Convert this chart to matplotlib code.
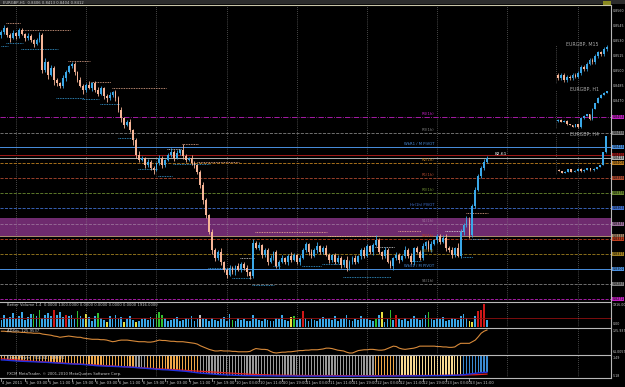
import numpy as np
import matplotlib.pyplot as plt
from matplotlib.transforms import blended_transform_factory
from matplotlib.lines import Line2D

W, H = 625, 387
PIP = 0.0001
plt.rcParams['font.family'] = ['Liberation Sans Narrow', 'DejaVu Sans']

# EURGBP H1 candles (close prices, first open, wick lengths in pips)
first_open = 0.8536
closes = [
    0.8539, 0.8543, 0.8536, 0.8533, 0.8538, 0.8535, 0.8541, 0.8537, 0.8533, 0.8535,
    0.8531, 0.8527, 0.8531, 0.8536, 0.8501, 0.8509, 0.8496, 0.8503, 0.8491, 0.8488,
    0.8485, 0.8493, 0.8499, 0.8505, 0.8507, 0.8499, 0.8491, 0.8485, 0.8481, 0.8486,
    0.8483, 0.8488, 0.8481, 0.8477, 0.8483, 0.8475, 0.8473, 0.8476, 0.8479, 0.8473,
    0.8461, 0.8453, 0.8446, 0.8449, 0.8441, 0.8431, 0.8416, 0.8411, 0.8413, 0.8406,
    0.8409, 0.8403, 0.8401, 0.8408, 0.8413, 0.8406, 0.8411, 0.8416, 0.8419, 0.8413,
    0.8418, 0.8421, 0.8415, 0.8411, 0.8413, 0.8408, 0.8406, 0.8399, 0.8386, 0.8371,
    0.8356, 0.8339, 0.8321, 0.8313, 0.8319, 0.8309, 0.8301, 0.8296, 0.8303, 0.8299,
    0.8305, 0.8301, 0.8307, 0.8303, 0.8299, 0.8295, 0.8328, 0.8323, 0.8326, 0.8316,
    0.8321, 0.8309, 0.8313, 0.8319, 0.8305, 0.8309, 0.8313, 0.8309, 0.8315, 0.8311,
    0.8316, 0.8309, 0.8313, 0.8321, 0.8327, 0.8319, 0.8315, 0.8321, 0.8325, 0.8319,
    0.8323, 0.8316, 0.8311, 0.8316, 0.8309, 0.8313, 0.8306, 0.8311, 0.8303, 0.8309,
    0.8313, 0.8309, 0.8315, 0.8321, 0.8315, 0.8325, 0.8319, 0.8326, 0.8331, 0.8319,
    0.8315, 0.8321, 0.8309, 0.8305, 0.8313, 0.8316, 0.8311, 0.8315, 0.8321, 0.8315,
    0.8309, 0.8323, 0.8319, 0.8313, 0.8325, 0.8329, 0.8321, 0.8327, 0.8331, 0.8335,
    0.8329, 0.8333, 0.8323, 0.8321, 0.8316, 0.8323, 0.8315, 0.8339, 0.8346, 0.8351,
    0.8336, 0.8365, 0.8381, 0.8395, 0.8403, 0.8409, 0.8413,
]
wick_up = [
    2, 3, 1, 2, 3, 1, 2, 2, 1, 3,  2, 1, 2, 3, 2, 4, 1, 3, 2, 2,
    1, 3, 2, 1, 2, 2, 1, 3, 2, 2,  4, 1, 2, 3, 2, 1, 2, 3, 1, 2,
    2, 3, 1, 2, 3, 1, 2, 4, 2, 1,  3, 2, 2, 1, 3, 2, 1, 2, 4, 2,
    3, 1, 6, 2, 1, 3, 2, 1, 2, 3,  2, 1, 3, 2, 2, 4, 1, 2, 3, 2,
    1, 3, 2, 2, 3, 1, 4, 2, 3, 1,  2, 2, 3, 1, 2, 2, 3, 1, 2, 4,
    2, 1, 3, 2, 2, 1, 3, 2, 4, 1,  2, 3, 2, 1, 2, 3, 2, 1, 4, 2,
    2, 3, 1, 2, 3, 2, 1, 2, 5, 2,  1, 3, 2, 2, 1, 3, 2, 1, 4, 2,
    3, 1, 2, 2, 3, 1, 2, 3, 1, 2,  2, 3, 4, 2, 3, 1, 5, 3, 2, 4,
    3, 2, 3, 2, 2, 3, 2,
]
wick_dn = [
    3, 2, 2, 4, 1, 3, 2, 1, 3, 2,  2, 3, 1, 2, 3, 2, 4, 1, 5, 3,
    2, 2, 3, 1, 2, 3, 2, 1, 4, 2,  1, 3, 2, 2, 1, 3, 4, 2, 2, 3,
    2, 4, 3, 1, 2, 5, 3, 2, 1, 3,  2, 2, 4, 1, 2, 3, 2, 1, 2, 3,
    1, 2, 3, 2, 1, 2, 3, 2, 3, 4,  3, 2, 4, 3, 2, 3, 2, 3, 1, 2,
    3, 1, 2, 2, 4, 3, 2, 1, 2, 3,  2, 3, 1, 2, 2, 3, 1, 2, 3, 2,
    1, 2, 3, 1, 2, 3, 2, 1, 3, 2,  2, 1, 3, 2, 2, 1, 3, 2, 3, 2,
    2, 2, 1, 3, 2, 1, 2, 3, 1, 2,  3, 2, 1, 2, 4, 2, 3, 1, 2, 2,
    2, 3, 1, 2, 2, 3, 1, 2, 1, 3,  2, 1, 3, 2, 3, 2, 1, 2, 3, 2,
    3, 2, 2, 1, 2, 2, 1,
]

time_labels = ['4 Jan 2011', '5 Jan 03:00', '5 Jan 11:00', '5 Jan 19:00', '6 Jan 03:00',
               '6 Jan 11:00', '6 Jan 19:00', '7 Jan 03:00', '7 Jan 11:00', '7 Jan 19:00',
               '10 Jan 03:00', '10 Jan 11:00', '10 Jan 19:00', '11 Jan 03:00', '11 Jan 11:00',
               '11 Jan 19:00', '12 Jan 03:00', '12 Jan 11:00', '12 Jan 19:00', '13 Jan 03:00',
               '13 Jan 11:00']
label_every = 8
day_starts = [5, 29, 53, 77, 101, 125, 149, 173, 197]

# pivot / level lines: price, colour, style, text
level_prices = [0.8454, 0.8438, 0.8424, 0.8416, 0.8413, 0.8408, 0.8393, 0.8378,
                0.8363, 0.8347, 0.8335, 0.8332, 0.8317, 0.8302, 0.8287, 0.8272]
level_colors = ['#c020c0', '#808080', '#4a90e0', '#a01818', '#b0b0b0', '#c08020',
                '#b04a30', '#6a8a30', '#4070d0', '#9a709a', '#b09070', '#c04020',
                '#a08020', '#4a90e0', '#808080', '#c020c0']
level_styles = ['-.', '--', '-', '-', '-', '--', '--', '--',
                '--', '--', '-', '--', '--', '-', '--', '--']
level_names = ['R4(1h)', 'R3(1h)', 'WkR1 / M PIVOT', '', '', 'R2(1h)', 'R1(1h)', 'R0(1h)',
               'Hr(1h) PIVOT', 'S1(1h)', '', 'S2(1h)', 'S3(1h)', 'WkS1 / M PIVOT', 'S4(1h)', '']
band_lo, band_hi = 0.8335, 0.8353

# session high / low dotted markers: first bar, last bar, price
hi_marks = [(2, 6, 0.8548), (7, 23, 0.8541), (23, 30, 0.8510), (31, 37, 0.8489),
            (38, 56, 0.8483), (62, 67, 0.8427), (67, 81, 0.8409), (87, 111, 0.8339),
            (112, 128, 0.8335), (136, 143, 0.8340), (159, 166, 0.8358)]
box_marks = [(57, 61, 0.8422), (82, 86, 0.8313), (128, 134, 0.8324), (152, 158, 0.8340)]
lo_marks = [(0, 2, 0.8525), (2, 7, 0.8528), (7, 19, 0.8522), (19, 28, 0.8473),
            (28, 33, 0.8472), (34, 40, 0.8467), (40, 45, 0.8433), (47, 53, 0.8402),
            (54, 58, 0.8395), (59, 71, 0.8407), (71, 81, 0.8303), (79, 85, 0.8293),
            (86, 93, 0.8286), (93, 95, 0.8305), (103, 109, 0.8305), (110, 116, 0.8307),
            (117, 133, 0.8294), (140, 143, 0.8310), (158, 161, 0.8314), (161, 166, 0.8332)]

axis_ticks = [0.8560, 0.8545, 0.8530, 0.8515, 0.8500, 0.8485, 0.8470, 0.8455, 0.8440,
              0.8425, 0.8410, 0.8395, 0.8380, 0.8365, 0.8350, 0.8335, 0.8320, 0.8305,
              0.8290, 0.8275]

# M15 / H4 mini charts
m15_open = 0.8398
m15_closes = [0.8396, 0.8398, 0.8395, 0.8397, 0.8396, 0.8398, 0.8397, 0.8399, 0.8402,
              0.8401, 0.8404, 0.8406, 0.8405, 0.8408, 0.8410, 0.8409, 0.8412, 0.8413]
h4_open = 0.8315
h4_closes = [0.8312, 0.8306, 0.8310, 0.8316, 0.8309, 0.8313, 0.8318, 0.8311, 0.8315,
             0.8320, 0.8314, 0.8318, 0.8323, 0.8329, 0.8366, 0.8413]

# Better Volume
volume = [
    560, 1000, 760, 840, 1150, 690, 920, 1230, 610, 850,
    1080, 1070, 920, 1380, 770, 1000, 1150, 930, 1380, 1000,
    1230, 860, 1000, 920, 1000, 690, 1300, 920, 770, 1080,
    850, 530, 900, 1150, 770, 610, 380, 920, 690, 1000,
    770, 850, 380, 690, 920, 610, 380, 530, 690, 770,
    610, 850, 690, 1080, 1230, 1000, 770, 460, 610, 690,
    850, 530, 610, 770, 690, 920, 530, 690, 1000, 770,
    690, 530, 770, 610, 460, 690, 850, 530, 1080, 610,
    530, 770, 610, 690, 460, 530, 1000, 770, 610, 530,
    690, 610, 460, 530, 770, 690, 1000, 610, 530, 850,
    920, 610, 690, 1300, 770, 530, 690, 610, 460, 690,
    850, 690, 770, 610, 920, 530, 690, 770, 1000, 610,
    530, 690, 610, 920, 770, 690, 610, 530, 690, 1000,
    1230, 380, 690, 1380, 610, 1000, 690, 610, 770, 530,
    690, 920, 770, 610, 690, 1000, 1230, 690, 610, 770,
    690, 850, 530, 610, 770, 690, 610, 920, 1080, 770,
    460, 380, 920, 1300, 1380, 1916, 610,
]
vol_green = [11, 13, 26, 33, 53, 54, 55, 79, 100, 128, 133, 146]
vol_red = [18, 22, 103, 135, 163, 164, 165]
vol_yellow = [29, 36, 42, 46, 99, 130, 160, 161]
vol_gray = [68]
vol_avg = 700

# oscillator line
osc = [
    118, 118, 117, 117, 116, 116, 116, 115, 115, 114, 114, 113, 113, 113,
    111, 110, 109, 108, 106, 105, 103, 104, 105, 106, 105, 104, 103, 103,
    101, 100, 99, 98, 98, 98, 97, 97, 96, 94, 92, 93, 95, 96,
    96, 96, 95, 94, 93, 92, 92, 92, 91, 91, 92, 94, 96, 95,
    95, 94, 93, 93, 92, 92, 92, 91, 90, 89, 88, 86, 82, 79,
    76, 73, 71, 69, 69, 70, 69, 69, 69, 68, 68, 67, 67, 67,
    67, 68, 72, 75, 74, 73, 73, 72, 68, 65, 64, 65, 66, 66,
    67, 67, 68, 69, 70, 70, 71, 71, 72, 72, 72, 73, 74, 76,
    76, 75, 73, 71, 70, 69, 66, 64, 64, 67, 70, 71, 72, 72,
    73, 73, 72, 71, 71, 72, 75, 78, 81, 80, 76, 74, 73, 74,
    75, 76, 78, 81, 81, 81, 81, 81, 81, 80, 80, 79, 79, 78,
    78, 79, 84, 88, 88, 88, 88, 92, 96, 104, 113, 118, 121,
]

# lower histogram panel
hist = [
    -234, -236, -240, -244, -248, -252, -255, -257, -259, -261, -263, -265, -268, -270,
    -272, -274, -277, -280, -283, -286, -290, -293, -296, -300, -302, -304, -306, -308,
    -312, -316, -320, -324, -330, -334, -336, -338, -340, -342, -344, -346, -348, -350,
    -352, -354, -356, -360, -364, -368, -372, -376, -380, -384, -388, -392, -396, -400,
    -402, -404, -408, -412, -416, -420, -424, -428, -434, -440, -446, -452, -458, -462,
    -466, -470, -474, -478, -482, -486, -488, -490, -492, -494, -496, -498, -500, -502,
    -502, -503, -503, -504, -504, -505, -505, -506, -506, -507, -507, -508, -508, -508,
    -509, -509, -509, -510, -510, -510, -510, -510, -510, -510, -511, -511, -511, -511,
    -511, -511, -512, -512, -512, -512, -512, -512, -512, -512, -512, -511, -511, -511,
    -511, -511, -510, -510, -510, -510, -509, -509, -509, -508, -508, -508, -507, -507,
    -506, -506, -505, -505, -504, -504, -503, -503, -502, -502, -501, -501, -500, -500,
    -498, -496, -494, -490, -486, -480, -474, -468, -462, -456, -450, -446, -444,
]
signal = [
    -215, -218, -222, -226, -230, -234, -238, -242, -246, -250, -254, -257, -260, -263,
    -266, -269, -272, -275, -278, -281, -284, -287, -290, -293, -296, -299, -302, -305,
    -308, -311, -314, -317, -320, -323, -326, -329, -332, -335, -338, -341, -344, -347,
    -350, -353, -356, -359, -362, -365, -368, -371, -374, -377, -380, -383, -386, -389,
    -392, -395, -398, -401, -404, -407, -410, -413, -416, -419, -422, -425, -428, -431,
    -434, -437, -440, -443, -446, -449, -452, -455, -458, -461, -464, -467, -470, -473,
    -476, -478, -480, -482, -484, -486, -488, -490, -491, -492, -493, -494, -495, -496,
    -497, -497, -498, -498, -499, -499, -499, -500, -500, -500, -500, -500, -500, -500,
    -500, -501, -501, -501, -501, -502, -502, -502, -502, -502, -502, -502, -502, -502,
    -502, -502, -502, -502, -501, -501, -501, -501, -501, -500, -500, -500, -500, -500,
    -500, -499, -499, -499, -498, -498, -498, -497, -497, -497, -496, -496, -496, -495,
    -495, -494, -494, -493, -492, -491, -490, -488, -486, -484, -481, -478, -475,
]
hist_runs = [(0, 46, '#f0a848'), (46, 50, '#9a9a9a'), (50, 68, '#f0a848'),
             (68, 128, '#9a9a9a'), (128, 135, '#f0a848'), (135, 137, '#9a9a9a'),
             (137, 158, '#f8d890'), (158, 167, '#3a8ad0')]

BULL, BEAR = '#3aa8e8', '#f6b496'
BG, GRID, TXT = 'black', '#8a8a8a', '#c8c8c8'
FS = 2.7
FSR = 2.3   # right-hand scale

fig = plt.figure(figsize=(W / 100, H / 100), dpi=100, facecolor=BG)


def px_axes(x0, y0, x1, y1):
    ax = fig.add_axes([x0 / W, 1 - y1 / H, (x1 - x0) / W, (y1 - y0) / H])
    ax.set_facecolor('none')
    ax.set_xticks([])
    ax.set_yticks([])
    for s in ax.spines.values():
        s.set_visible(False)
    return ax


def candles(ax, x, o, c, up, dn, width=0.62, lw=0.6):
    o, c = np.asarray(o), np.asarray(c)
    hi = np.maximum(o, c) + np.asarray(up) * PIP
    lo = np.minimum(o, c) - np.asarray(dn) * PIP
    cols = np.where(c >= o, BULL, BEAR)
    ax.vlines(x, lo, hi, colors=cols, lw=lw, zorder=4)
    body = np.maximum(np.abs(c - o), 0.4 * PIP)
    ax.bar(x, body, bottom=np.minimum(o, c), width=width, color=cols, lw=0, zorder=5)


n = len(closes)
idx = np.arange(n)
opens = [first_open] + closes[:-1]
XL = (-0.48, 208.4)
RX = 612.5 / W   # left edge of right-hand scale text

# frame pieces
fig.add_artist(plt.Rectangle((0, 1 - 4 / H), 1, 4 / H, transform=fig.transFigure,
                             color='#2c2c2c', lw=0))
for yy, col in [(5, '#c8c4a8'), (301.5, '#b8b8b8'), (327.5, '#b8b8b8'),
                (354.5, '#b8b8b8'), (377.5, '#b8b8b8')]:
    fig.add_artist(Line2D([0, 611 / W], [1 - yy / H] * 2, color=col, lw=0.8))
fig.add_artist(Line2D([611 / W] * 2, [1 - 378 / H, 1 - 5 / H], color='#b8b8b8', lw=0.8))
fig.text(3 / W, 1 - 2.5 / H, 'EURGBP,H1  0.8406 0.8413 0.8404 0.8412', color=TXT,
         fontsize=FS, va='center')
fig.add_artist(plt.Rectangle((603 / W, 1 - 6 / H), 8 / W, 5 / H, transform=fig.transFigure,
                             color='#8a8a20', lw=0))

# main price panel
ax = px_axes(0, 5, 611, 301)
ax.set_xlim(*XL)
ax.set_ylim(0.8270, 0.8566)
rt = blended_transform_factory(fig.transFigure, ax.transData)
ax.axhspan(band_lo, band_hi, color='#6e2a6e', lw=0, zorder=1)
for d in day_starts:
    ax.axvline(d, color=GRID, lw=0.5, ls=(0, (1, 2)), zorder=2)
for p, col, ls, name in zip(level_prices, level_colors, level_styles, level_names):
    ax.axhline(p, color=col, lw=0.7 if ls == '-' else 0.6, ls=ls, zorder=3)
    if name:
        ax.text(148, p + 1.2 * PIP, name, color=col, fontsize=FS, ha='right', va='bottom', zorder=6)
    ax.text(RX, p, f'{p:.4f}', transform=rt, fontsize=FSR, color='black', va='center',
            clip_on=False, bbox=dict(facecolor=col, edgecolor='none', pad=0.2), zorder=9)
for p in axis_ticks:
    # a level box on the scale hides the tick under it
    if min(abs(p - q) for q in level_prices) < 5 * PIP:
        continue
    ax.text(RX, p, f'{p:.4f}', transform=rt, fontsize=FSR, color=TXT, va='center',
            clip_on=False, zorder=8)
for a, b, p in hi_marks:
    ax.hlines(p, a - 0.3, b + 0.3, color=BEAR, lw=0.6, ls=(0, (1, 1)), zorder=3)
for a, b, p in lo_marks:
    ax.hlines(p, a - 0.3, b + 0.3, color=BULL, lw=0.6, ls=(0, (1, 1)), zorder=3)
for a, b, p in box_marks:
    ax.hlines(p, a - 0.3, b + 0.3, color='#e0e0e0', lw=0.6, ls=(0, (1, 1)), zorder=3)
candles(ax, idx, opens, closes, wick_up, wick_dn)
ax.text(n + 1.5, closes[-1] + 2 * PIP, '82.61', color='white', fontsize=3.2, va='bottom')

# mini charts in the top right corner
minis = [
    ('EURGBP, M15', (556, 45, 609, 84), m15_open, m15_closes, (0.8393, 0.8414)),
    ('EURGBP, H1', (556, 90, 609, 129), closes[-19], closes[-18:], (0.8310, 0.8416)),
    ('EURGBP, H4', (556, 135, 609, 175), h4_open, h4_closes, (0.8300, 0.8416)),
]
for title, box, o0, cl, yl in minis:
    mx = px_axes(*box)
    k = len(cl)
    mx.set_xlim(-0.8, k - 0.2)
    mx.set_ylim(*yl)
    mo = [o0] + list(cl[:-1])
    candles(mx, np.arange(k), mo, cl, [1] * k, [1] * k, width=0.6, lw=0.5)
    mx.axvline(-0.8, color=GRID, lw=0.5, ls=(0, (1, 2)))
    fig.text((box[2] - 10) / W, 1 - (box[1] - 1) / H, title, color='#a8a8a8',
             fontsize=3.4, ha='right', va='center')

# volume panel
av = px_axes(0, 302, 611, 327)
av.set_xlim(*XL)
av.set_ylim(0, 2050)
vcols = []
for i in idx:
    c = BULL
    if i in vol_green: c = '#30c030'
    if i in vol_red: c = '#d01818'
    if i in vol_yellow: c = '#e8e040'
    if i in vol_gray: c = '#c0c0c0'
    vcols.append(c)
av.bar(idx, volume, width=0.6, color=vcols, lw=0)
av.axhline(vol_avg, color='#901010', lw=0.6)
av.text(2, 1950, 'Better Volume 1.4  0.0000 1300.0000 0.0000 0.0000 0.0000 0.0000 1916.0000',
        color=TXT, fontsize=FS, va='top')
for d in day_starts:
    av.axvline(d, color=GRID, lw=0.5, ls=(0, (1, 2)))
fig.text(RX, 1 - 305 / H, '1916.00', color=TXT, fontsize=FSR, va='center')
fig.text(RX, 1 - 324 / H, '0.00', color=TXT, fontsize=FSR, va='center')

# oscillator panel
ao = px_axes(0, 328, 611, 354)
ao.set_xlim(*XL)
ao.set_ylim(61.5, 126)
ao.plot(idx, osc, color='#d88a3a', lw=0.8)
ao.text(2, 124, 'ADXm  125.9537', color=TXT, fontsize=FS, va='top')
for d in day_starts:
    ao.axvline(d, color=GRID, lw=0.5, ls=(0, (1, 2)))
fig.text(RX, 1 - 331 / H, '125.937', color=TXT, fontsize=FSR, va='center')
fig.text(RX, 1 - 352 / H, '61.0057', color=TXT, fontsize=FSR, va='center')

# histogram panel
ah = px_axes(0, 355, 611, 377)
ah.set_xlim(*XL)
ah.set_ylim(-525, -150)
hcols = ['#9a9a9a'] * n
for a, b, col in hist_runs:
    for i in range(a, min(b, n)):
        hcols[i] = col
ah.bar(idx, hist, width=0.45, color=hcols, lw=0)
ah.plot(idx, signal, color='#e02020', lw=0.9)
ah.plot(idx, hist, color='#2030e0', lw=1.0)
ah.text(2, -165, 'Bears Power  -516.64  -499.21', color=TXT, fontsize=FS, va='top')
ah.text(2, -505, 'FXCM MetaTrader, \u00a9 2001-2010 MetaQuotes Software Corp.', color=TXT,
        fontsize=FS, va='bottom')
for d in day_starts:
    ah.axvline(d, color=GRID, lw=0.5, ls=(0, (1, 2)))
fig.text(RX, 1 - 358 / H, '-149', color=TXT, fontsize=FSR, va='center')
fig.text(RX, 1 - 376 / H, '-518', color=TXT, fontsize=FSR, va='center')

# time axis
at = px_axes(0, 378, 611, 387)
at.set_xlim(*XL)
at.set_ylim(0, 1)
for k, lab in enumerate(time_labels):
    at.plot([k * label_every] * 2, [1, 0.7], color=TXT, lw=0.5)
    at.text(k * label_every + 0.3, 0.45, lab, color=TXT, fontsize=FS, va='center')

fig.savefig('out.png', dpi=100, facecolor=BG)
